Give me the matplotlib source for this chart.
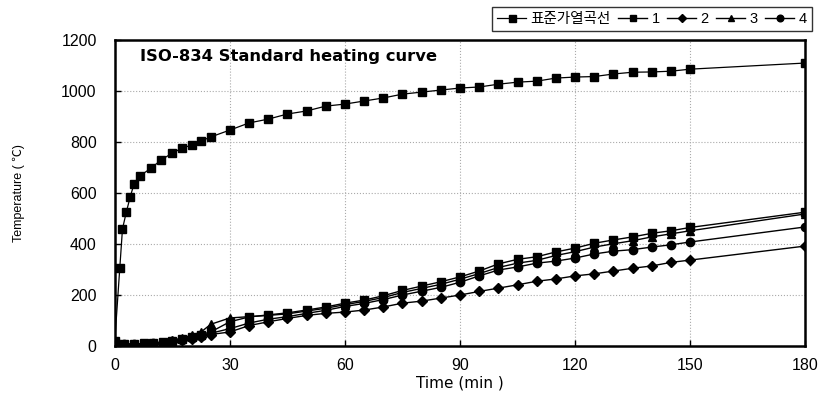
import matplotlib
matplotlib.use('Agg')
import matplotlib.pyplot as plt

plt.rcParams['font.family'] = ['Liberation Sans', 'Noto Sans CJK KR', 'DejaVu Sans']

# ISO-834 standard heating curve
t_std = [0, 1.3, 2, 3, 4, 5, 6.5, 9.5, 12, 15, 17.5, 20, 22.5, 25, 30, 35, 40, 45, 50,
         55, 60, 65, 70, 75, 80, 85, 90, 95, 100, 105, 110, 115, 120, 125, 130, 135,
         140, 145, 150, 180]
T_std = [20, 306, 459, 525, 584, 635, 667, 698, 729, 757, 776, 788, 804, 820, 847, 875,
         890, 910, 922, 941, 949, 961, 973, 988, 996, 1004, 1012, 1016, 1027, 1035, 1039,
         1051, 1055, 1057, 1067, 1074, 1075, 1078, 1086, 1110]

# measured specimens 1-4
t_low = [0, 2.5, 5, 7.5, 10, 12.5, 15, 17.5, 20, 22.5, 25, 30, 35, 40, 45, 50, 55, 60,
         65, 70, 75, 80, 85, 90, 95, 100, 105, 110, 115, 120, 125, 130, 135, 140, 145,
         150, 180]
s1 = [12, 8, 8, 10, 12, 15, 20, 28, 36, 45, 55, 95, 114, 122, 130, 141, 153, 168, 180,
      197, 218, 235, 252, 271, 294, 322, 340, 350, 369, 384, 403, 416, 428, 442, 452, 465, 525]
s2 = [10, 5, 5, 7, 9, 12, 16, 22, 28, 35, 45, 55, 80, 95, 108, 120, 128, 133, 141, 153,
      168, 176, 188, 200, 214, 227, 240, 254, 263, 275, 283, 294, 305, 314, 328, 337, 392]
s3 = [10, 6, 7, 9, 12, 16, 22, 32, 42, 55, 85, 110, 115, 120, 126, 137, 148, 162, 175,
      190, 210, 226, 242, 262, 284, 308, 325, 336, 355, 370, 388, 401, 413, 428, 440, 452, 518]
s4 = [10, 6, 6, 8, 10, 13, 18, 25, 32, 40, 50, 68, 90, 105, 115, 128, 140, 155, 167, 182,
      200, 215, 230, 250, 275, 298, 310, 325, 333, 345, 361, 372, 378, 388, 397, 408, 467]

labels = ['표준가열곡선', '1', '2', '3', '4']
x_ticks = [0, 30, 60, 90, 120, 150, 180]
y_ticks = [0, 200, 400, 600, 800, 1000, 1200]

fig = plt.figure(figsize=(8.2, 3.97), dpi=100)
ax = fig.add_axes([0.140, 0.1285, 0.842, 0.7705])

ax.plot(t_std, T_std, color='black', lw=0.9, marker='s', ms=6.3, label=labels[0])
ax.plot(t_low, s1, color='black', lw=1.0, marker='s', ms=5.8, label=labels[1])
ax.plot(t_low, s2, color='black', lw=1.0, marker='D', ms=4.8, label=labels[2])
ax.plot(t_low, s3, color='black', lw=1.0, marker='^', ms=6, label=labels[3])
ax.plot(t_low, s4, color='black', lw=1.0, marker='o', ms=6, label=labels[4])

ax.set_xlim(0, 180)
ax.set_ylim(0, 1200)
ax.set_xticks(x_ticks)
ax.set_yticks(y_ticks)
ax.tick_params(direction='in', length=4, width=1, labelsize=11.5)
ax.tick_params(axis='y', pad=13)
ax.tick_params(axis='x', pad=9)
ax.grid(True, linestyle=':', color='#aaaaaa', lw=0.8)
for sp in ax.spines.values():
    sp.set_linewidth(1.8)

ax.set_xlabel('Time (min )', fontsize=11, family='DejaVu Sans')
ax.xaxis.set_label_coords(0.5, -0.098)
ax.set_ylabel('Temperature ( ℃)', fontsize=9)
ax.yaxis.set_label_coords(-0.13, 0.5)

ax.text(0.036, 0.948, 'ISO-834 Standard heating curve', transform=ax.transAxes,
        fontsize=11.8, weight='bold', family='DejaVu Sans', ha='left', va='center')

leg = fig.legend(loc='upper right', bbox_to_anchor=(0.990, 0.982), ncol=5,
                 fontsize=10.5, frameon=True, fancybox=False, edgecolor='black',
                 handlelength=2.0, handletextpad=0.3, columnspacing=0.5,
                 borderpad=0.35, borderaxespad=0, markerscale=0.8)
leg.get_frame().set_linewidth(1.0)

fig.savefig('out.png', dpi=100, facecolor='white')
